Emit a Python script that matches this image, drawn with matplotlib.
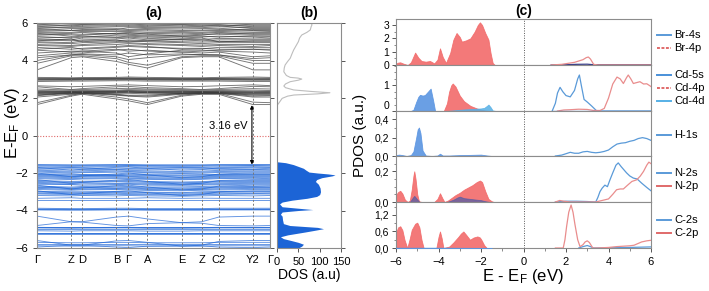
import numpy as np
import matplotlib
matplotlib.use("Agg")
import matplotlib.pyplot as plt
from matplotlib.lines import Line2D
from matplotlib.ticker import MultipleLocator

plt.rcParams['font.family'] = ['Liberation Sans', 'DejaVu Sans']
plt.rcParams['font.size'] = 8

# ---------------- data: band structure ----------------
kpos = [0, 34, 45, 79, 91, 110, 144, 164, 181, 215, 232]
klabels = ['Γ', 'Z', 'D', 'B', 'Γ', 'A', 'E', 'Z', 'C2', 'Y2', 'Γ']

cb_bands = [
    [1.65, 2.10, 2.20, 1.95, 1.85, 1.65, 2.10, 2.20, 2.20, 1.65, 1.65],
    [1.75, 2.15, 2.25, 2.05, 1.95, 1.75, 2.15, 2.25, 2.25, 1.78, 1.75],
    [2.05, 2.20, 2.25, 2.15, 2.10, 2.05, 2.20, 2.25, 2.25, 2.05, 2.05],
    [2.12, 2.26, 2.28, 2.18, 2.12, 2.10, 2.24, 2.28, 2.27, 2.10, 2.12],
    [2.15, 2.30, 2.30, 2.20, 2.15, 2.15, 2.25, 2.30, 2.30, 2.15, 2.15],
    [2.20, 2.22, 2.22, 2.25, 2.25, 2.22, 2.22, 2.22, 2.22, 2.20, 2.20],
    [2.22, 2.24, 2.26, 2.30, 2.32, 2.28, 2.24, 2.24, 2.26, 2.22, 2.22],
    [2.25, 2.28, 2.30, 2.28, 2.30, 2.28, 2.28, 2.27, 2.28, 2.25, 2.25],
    [2.28, 2.30, 2.31, 2.32, 2.33, 2.30, 2.30, 2.30, 2.30, 2.28, 2.28],
    [2.30, 2.32, 2.33, 2.35, 2.35, 2.33, 2.32, 2.32, 2.32, 2.30, 2.30],
    [2.33, 2.34, 2.34, 2.36, 2.38, 2.35, 2.34, 2.34, 2.34, 2.33, 2.33],
    [2.35, 2.35, 2.36, 2.38, 2.40, 2.38, 2.36, 2.35, 2.36, 2.36, 2.35],
    [2.40, 2.38, 2.40, 2.42, 2.45, 2.43, 2.40, 2.38, 2.40, 2.42, 2.40],
    [2.48, 2.42, 2.45, 2.50, 2.52, 2.48, 2.45, 2.42, 2.45, 2.50, 2.48],
    [2.60, 2.45, 2.50, 2.60, 2.62, 2.55, 2.50, 2.45, 2.50, 2.62, 2.60],
    [2.65, 2.60, 2.62, 2.68, 2.70, 2.66, 2.60, 2.62, 2.65, 2.70, 2.66],
    [2.88, 2.90, 2.90, 2.92, 2.92, 2.90, 2.90, 2.90, 2.90, 2.88, 2.88],
    [2.95, 2.95, 2.96, 2.97, 2.98, 2.96, 2.95, 2.95, 2.96, 2.95, 2.95],
    [2.97, 2.98, 2.98, 3.00, 3.00, 2.98, 2.98, 2.98, 2.98, 2.97, 2.97],
    [3.00, 3.00, 3.01, 3.02, 3.03, 3.01, 3.00, 3.00, 3.01, 3.00, 3.00],
    [3.02, 3.02, 3.03, 3.04, 3.05, 3.03, 3.02, 3.02, 3.03, 3.02, 3.02],
    [3.05, 3.04, 3.05, 3.06, 3.07, 3.05, 3.04, 3.04, 3.05, 3.06, 3.05],
    [3.10, 3.08, 3.09, 3.10, 3.12, 3.10, 3.08, 3.08, 3.10, 3.12, 3.10],
    [3.50, 4.15, 4.20, 3.95, 3.80, 3.60, 4.15, 4.20, 4.20, 3.50, 3.50],
    [3.85, 4.25, 4.25, 4.10, 3.90, 3.75, 4.20, 4.25, 4.25, 3.85, 3.85],
    [4.00, 4.30, 4.35, 4.30, 4.40, 4.30, 4.35, 4.30, 4.30, 4.00, 4.00],
    [4.15, 4.30, 4.32, 4.20, 4.05, 4.15, 4.30, 4.32, 4.30, 4.10, 4.15],
    [4.25, 4.40, 4.40, 4.55, 4.60, 4.50, 4.45, 4.40, 4.45, 4.20, 4.25],
    [4.40, 4.50, 4.50, 4.40, 4.20, 4.35, 4.55, 4.55, 4.50, 4.45, 4.40],
    [4.55, 4.45, 4.50, 4.60, 4.50, 4.55, 4.45, 4.50, 4.55, 4.60, 4.55],
    [4.60, 4.70, 4.60, 4.70, 4.75, 4.70, 4.65, 4.65, 4.60, 4.60, 4.60],
    [4.70, 4.60, 4.65, 4.75, 4.80, 4.75, 4.60, 4.62, 4.70, 4.70, 4.70],
    [4.80, 4.75, 4.80, 4.85, 4.90, 4.85, 4.80, 4.75, 4.80, 4.75, 4.80],
    [4.85, 4.80, 4.85, 4.95, 4.95, 4.90, 4.85, 4.82, 4.85, 4.85, 4.85],
    [4.95, 4.90, 4.95, 5.00, 5.05, 5.00, 4.95, 4.90, 4.95, 4.95, 4.95],
    [5.00, 4.95, 5.05, 5.05, 5.10, 5.05, 5.00, 4.98, 5.02, 5.00, 5.00],
    [5.05, 5.15, 5.00, 5.10, 5.00, 5.05, 5.15, 5.20, 5.00, 5.05, 5.05],
    [5.10, 5.05, 5.10, 5.15, 5.20, 5.10, 5.10, 5.05, 5.10, 5.10, 5.10],
    [5.15, 5.10, 5.20, 5.22, 5.25, 5.18, 5.12, 5.12, 5.18, 5.15, 5.15],
    [5.20, 5.25, 5.30, 5.25, 5.30, 5.25, 5.20, 5.25, 5.30, 5.25, 5.20],
    [5.28, 5.20, 5.25, 5.35, 5.35, 5.30, 5.28, 5.30, 5.25, 5.30, 5.28],
    [5.35, 5.40, 5.40, 5.45, 5.40, 5.35, 5.35, 5.40, 5.40, 5.35, 5.35],
    [5.40, 5.45, 5.50, 5.40, 5.45, 5.45, 5.42, 5.45, 5.50, 5.40, 5.40],
    [5.45, 5.30, 5.35, 5.45, 5.50, 5.40, 5.30, 5.35, 5.45, 5.45, 5.45],
    [5.50, 5.50, 5.55, 5.55, 5.55, 5.50, 5.50, 5.50, 5.55, 5.50, 5.50],
    [5.55, 5.60, 5.60, 5.62, 5.60, 5.58, 5.55, 5.58, 5.60, 5.58, 5.55],
    [5.60, 5.70, 5.70, 5.65, 5.75, 5.70, 5.68, 5.70, 5.72, 5.60, 5.60],
    [5.65, 5.60, 5.65, 5.70, 5.65, 5.65, 5.60, 5.62, 5.65, 5.65, 5.65],
    [5.70, 5.80, 5.82, 5.85, 5.85, 5.80, 5.80, 5.82, 5.85, 5.70, 5.70],
    [5.75, 5.75, 5.75, 5.80, 5.80, 5.75, 5.75, 5.75, 5.80, 5.75, 5.75],
    [5.80, 5.90, 5.92, 5.95, 5.95, 5.90, 5.92, 5.90, 5.92, 5.80, 5.80],
    [5.85, 5.85, 5.88, 5.90, 5.90, 5.85, 5.88, 5.85, 5.88, 5.85, 5.85],
    [5.90, 6.00, 5.98, 6.00, 6.05, 6.00, 6.00, 5.98, 6.00, 5.90, 5.90],
    [5.95, 5.95, 5.95, 5.98, 5.98, 5.95, 5.95, 5.95, 5.97, 5.95, 5.95],
]

vb_bands = [
    [-1.55, -1.56, -1.56, -1.55, -1.55, -1.56, -1.56, -1.56, -1.55, -1.55, -1.55],
    [-1.58, -1.60, -1.60, -1.58, -1.58, -1.60, -1.60, -1.60, -1.58, -1.58, -1.58],
    [-1.62, -1.65, -1.64, -1.62, -1.60, -1.63, -1.65, -1.64, -1.62, -1.60, -1.62],
    [-1.68, -1.70, -1.70, -1.66, -1.66, -1.68, -1.70, -1.70, -1.68, -1.66, -1.68],
    [-1.70, -1.85, -1.80, -1.70, -1.68, -1.75, -1.85, -1.82, -1.72, -1.70, -1.70],
    [-1.75, -1.72, -1.74, -1.78, -1.76, -1.74, -1.72, -1.73, -1.76, -1.78, -1.75],
    [-1.80, -1.78, -1.80, -1.82, -1.80, -1.80, -1.78, -1.78, -1.80, -1.82, -1.80],
    [-1.85, -1.90, -1.88, -1.84, -1.86, -1.88, -1.92, -1.90, -1.86, -1.84, -1.85],
    [-1.90, -1.95, -1.94, -1.90, -1.92, -1.94, -1.96, -1.95, -1.92, -1.90, -1.90],
    [-1.95, -2.00, -1.98, -1.96, -1.95, -1.98, -2.02, -2.00, -1.97, -1.95, -1.95],
    [-2.00, -2.20, -2.15, -2.05, -2.00, -2.10, -2.25, -2.20, -2.05, -2.00, -2.00],
    [-2.05, -2.05, -2.08, -2.10, -2.05, -2.06, -2.05, -2.06, -2.08, -2.05, -2.05],
    [-2.08, -2.10, -2.10, -2.12, -2.10, -2.10, -2.12, -2.10, -2.10, -2.08, -2.08],
    [-2.12, -2.15, -2.14, -2.12, -2.15, -2.14, -2.16, -2.15, -2.13, -2.12, -2.12],
    [-2.16, -2.20, -2.18, -2.16, -2.18, -2.20, -2.22, -2.20, -2.18, -2.16, -2.16],
    [-2.20, -2.25, -2.22, -2.20, -2.22, -2.25, -2.28, -2.25, -2.22, -2.20, -2.20],
    [-2.25, -2.30, -2.28, -2.25, -2.28, -2.30, -2.32, -2.30, -2.26, -2.25, -2.25],
    [-2.30, -2.35, -2.32, -2.30, -2.32, -2.34, -2.36, -2.34, -2.30, -2.28, -2.30],
    [-2.35, -2.55, -2.50, -2.38, -2.35, -2.45, -2.60, -2.55, -2.40, -2.35, -2.35],
    [-2.40, -2.45, -2.44, -2.42, -2.40, -2.45, -2.48, -2.46, -2.42, -2.40, -2.40],
    [-2.45, -2.50, -2.48, -2.46, -2.45, -2.50, -2.52, -2.50, -2.46, -2.45, -2.45],
    [-2.50, -2.55, -2.52, -2.55, -2.52, -2.55, -2.58, -2.55, -2.52, -2.50, -2.50],
    [-2.55, -2.60, -2.58, -2.58, -2.56, -2.60, -2.62, -2.60, -2.57, -2.55, -2.55],
    [-2.60, -2.62, -2.65, -2.62, -2.60, -2.65, -2.66, -2.64, -2.62, -2.60, -2.60],
    [-2.65, -2.85, -2.80, -2.68, -2.65, -2.75, -2.90, -2.85, -2.70, -2.65, -2.65],
    [-2.70, -2.75, -2.72, -2.70, -2.72, -2.75, -2.74, -2.72, -2.70, -2.72, -2.70],
    [-2.75, -2.80, -2.78, -2.76, -2.76, -2.80, -2.80, -2.78, -2.76, -2.75, -2.75],
    [-2.78, -2.82, -2.80, -2.82, -2.80, -2.84, -2.85, -2.82, -2.80, -2.78, -2.78],
    [-2.82, -2.88, -2.86, -2.84, -2.85, -2.88, -2.90, -2.88, -2.85, -2.82, -2.82],
    [-2.88, -2.92, -2.90, -2.88, -2.90, -2.93, -2.95, -2.92, -2.90, -2.88, -2.88],
    [-2.95, -3.15, -3.10, -2.98, -2.95, -3.05, -3.20, -3.15, -3.00, -2.95, -2.95],
    [-2.98, -3.00, -3.00, -2.98, -3.00, -3.02, -3.05, -3.00, -2.98, -2.98, -2.98],
    [-3.02, -3.05, -3.05, -3.04, -3.05, -3.06, -3.08, -3.05, -3.03, -3.02, -3.02],
    [-3.08, -3.10, -3.10, -3.08, -3.10, -3.12, -3.14, -3.10, -3.08, -3.10, -3.08],
    [-3.12, -3.15, -3.16, -3.14, -3.15, -3.16, -3.18, -3.16, -3.14, -3.12, -3.12],
    [-3.20, -3.22, -3.20, -3.22, -3.20, -3.22, -3.24, -3.22, -3.20, -3.22, -3.20],
    [-3.35, -3.32, -3.35, -3.35, -3.35, -3.32, -3.35, -3.34, -3.35, -3.35, -3.35],
    [-3.45, -3.45, -3.45, -3.45, -3.45, -3.45, -3.45, -3.45, -3.45, -3.45, -3.45],
    [-3.88, -3.90, -3.90, -3.88, -3.88, -3.90, -3.90, -3.90, -3.88, -3.88, -3.88],
    [-3.93, -3.94, -3.94, -3.93, -3.93, -3.94, -3.94, -3.94, -3.93, -3.93, -3.93],
    [-3.95, -3.96, -3.96, -3.95, -3.95, -3.96, -3.96, -3.96, -3.95, -3.95, -3.95],
    [-3.97, -3.98, -3.98, -3.97, -3.97, -3.98, -3.98, -3.98, -3.97, -3.97, -3.97],
    [-4.30, -4.60, -4.60, -4.35, -4.30, -4.45, -4.65, -4.60, -4.35, -4.30, -4.30],
    [-4.80, -4.60, -4.62, -4.80, -4.82, -4.70, -4.65, -4.68, -4.80, -4.82, -4.80],
    [-4.88, -4.88, -4.88, -4.88, -4.88, -4.88, -4.88, -4.88, -4.88, -4.88, -4.88],
    [-4.90, -4.91, -4.91, -4.90, -4.90, -4.91, -4.91, -4.91, -4.90, -4.90, -4.90],
    [-4.93, -4.95, -4.94, -4.93, -4.93, -4.95, -4.95, -4.94, -4.93, -4.93, -4.93],
    [-5.00, -5.00, -5.00, -5.00, -5.00, -5.00, -5.00, -5.00, -5.00, -5.00, -5.00],
    [-5.08, -5.10, -5.08, -5.08, -5.08, -5.10, -5.10, -5.08, -5.08, -5.08, -5.08],
    [-5.18, -5.18, -5.18, -5.18, -5.18, -5.18, -5.18, -5.18, -5.18, -5.18, -5.18],
    [-5.22, -5.22, -5.22, -5.22, -5.22, -5.22, -5.22, -5.22, -5.22, -5.22, -5.22],
    [-5.25, -5.25, -5.25, -5.25, -5.25, -5.25, -5.25, -5.25, -5.25, -5.25, -5.25],
    [-5.60, -5.85, -5.85, -5.62, -5.60, -5.70, -5.90, -5.85, -5.65, -5.60, -5.60],
    [-5.70, -5.72, -5.72, -5.70, -5.70, -5.72, -5.72, -5.72, -5.70, -5.70, -5.70],
    [-5.78, -5.78, -5.78, -5.78, -5.78, -5.78, -5.78, -5.78, -5.78, -5.78, -5.78],
    [-5.88, -5.90, -5.90, -5.88, -5.88, -5.90, -5.90, -5.90, -5.88, -5.88, -5.88],
    [-5.95, -5.85, -5.85, -5.95, -5.98, -5.90, -5.88, -5.88, -5.95, -5.98, -5.95],
]

gap_value = "3.16 eV"

# ---------------- data: total DOS ----------------
dos_cb_E = [1.60, 1.75, 1.98, 2.10, 2.16, 2.22, 2.28, 2.35, 2.43, 2.55, 2.64, 2.75, 2.87, 2.95,
            3.01, 3.06, 3.10, 3.20, 3.40, 3.60, 3.76, 3.95, 4.12, 4.35, 4.56, 4.80, 5.00, 5.20,
            5.36, 5.50, 5.63, 5.80, 5.90, 6.00]
dos_cb = [0, 5, 12, 25, 40, 95, 124, 80, 39, 20, 16, 20, 31, 50,
          58, 50, 31, 22, 16, 17, 19, 25, 31, 35, 39, 45, 50, 53,
          58, 70, 78, 80, 82, 80]
dos_vb_E = [-1.40, -1.45, -1.55, -1.65, -1.75, -1.85, -1.95, -2.00, -2.05, -2.10, -2.15, -2.25,
            -2.35, -2.45, -2.60, -2.80, -3.00, -3.15, -3.25, -3.35, -3.45, -3.55, -3.65, -3.80,
            -3.90, -3.95, -4.00, -4.08, -4.20, -4.30, -4.50, -4.70, -4.80, -4.90, -4.97, -5.05,
            -5.15, -5.30, -5.40, -5.50, -5.60, -5.70, -5.80, -5.90, -6.00]
dos_vb = [0, 20, 38, 50, 62, 68, 75, 95, 120, 136, 130, 105,
          93, 90, 97, 101, 102, 100, 93, 70, 35, 12, 6, 12,
          60, 84, 50, 12, 8, 12, 13, 15, 30, 95, 109, 90,
          65, 25, 8, 15, 33, 50, 62, 58, 50]

# ---------------- data: PDOS ----------------
br4p_vE = [-6.0, -5.9, -5.8, -5.65, -5.45, -5.3, -5.1, -4.95, -4.8, -4.6, -4.4, -4.2, -4.05, -3.93,
           -3.8, -3.65, -3.45, -3.3, -3.15, -3.0, -2.9, -2.7, -2.5, -2.3, -2.15, -2.05, -1.95,
           -1.8, -1.65, -1.55, -1.45, -1.35]
br4p_v = [0.1, 0.18, 0.2, 0.1, 0.0, 0.2, 0.93, 0.55, 0.3, 0.25, 0.3, 0.12, 0.4, 1.25,
          0.6, 0.15, 0.9, 1.9, 2.4, 2.1, 1.75, 1.85, 2.0, 2.5, 3.0, 3.2, 3.0,
          2.4, 1.9, 0.9, 0.15, 0.0]
br4p_cE = [1.3, 1.8, 2.0, 2.2, 2.4, 2.6, 2.8, 2.95, 3.05, 3.15, 3.3, 3.5, 6.0]
br4p_c = [0, 0.05, 0.1, 0.15, 0.2, 0.3, 0.4, 0.55, 0.6, 0.45, 0.05, 0, 0]
br4s_cE = [1.3, 2.0, 2.5, 3.0, 3.3, 4.0, 5.0, 6.0]
br4s_c = [0, 0.02, 0.05, 0.06, 0.02, 0.02, 0.02, 0.02]

cd5s_vE = [-5.3, -5.18, -5.05, -4.95, -4.87, -4.75, -4.64, -4.5, -4.37, -4.25, -4.16, -4.0]
cd5s_v = [0, 0.05, 0.35, 0.55, 0.63, 0.6, 0.62, 0.75, 0.87, 0.4, 0.0, 0]
cd4d_vE = [-3.6, -3.2, -2.8, -2.4, -2.0, -1.85, -1.72, -1.65, -1.55, -1.45, -1.3]
cd4d_v = [0, 0.03, 0.06, 0.08, 0.1, 0.12, 0.2, 0.25, 0.15, 0.02, 0]
cd4p_vE = [-3.75, -3.6, -3.5, -3.4, -3.33, -3.2, -3.0, -2.8, -2.5, -2.2, -2.0, -1.8, -1.6]
cd4p_v = [0, 0.3, 0.75, 1.0, 1.07, 0.95, 0.6, 0.38, 0.2, 0.1, 0.05, 0.02, 0]
cd5s_cE = [1.35, 1.5, 1.6, 1.72, 1.85, 2.0, 2.2, 2.4, 2.55, 2.63, 2.72, 2.85, 3.0, 3.2, 3.45, 3.6, 6.0]
cd5s_c = [0, 0.3, 0.7, 0.92, 0.75, 0.6, 0.55, 0.8, 1.25, 1.4, 1.0, 0.45, 0.35, 0.2, 0.0, 0.0, 0.0]
cd4p_cE = [1.6, 1.9, 2.2, 2.6, 3.0, 3.3, 3.6, 3.8, 4.0, 4.2, 4.4, 4.55, 4.7, 4.85, 4.93, 5.05,
           5.17, 5.3, 5.48, 5.65, 5.8, 5.95, 6.0]
cd4p_c = [0, 0.04, 0.05, 0.07, 0.06, 0.02, 0.02, 0.1, 0.5, 1.05, 1.32, 1.25, 1.07, 1.3, 1.4, 1.25,
          1.07, 1.1, 1.14, 1.05, 1.06, 0.98, 0.95]
cd4d_cE = [1.4, 3.0, 6.0]
cd4d_c = [0.01, 0.01, 0.01]

h1s_vE = [-6.0, -5.85, -5.7, -5.5, -5.3, -5.18, -5.05, -4.98, -4.92, -4.85, -4.75, -4.6, -4.3,
          -4.05, -3.93, -3.8, -3.5, -3.0, -2.5, -2.0, -1.7, -1.5]
h1s_v = [0.01, 0.015, 0.01, 0.0, 0.01, 0.05, 0.2, 0.29, 0.31, 0.25, 0.06, 0.005, 0.0,
         0.005, 0.025, 0.005, 0.005, 0.01, 0.012, 0.015, 0.005, 0]
h1s_cE = [1.5, 1.8, 2.0, 2.2, 2.4, 2.6, 2.8, 3.0, 3.2, 3.4, 3.6, 3.8, 4.0, 4.2, 4.4, 4.6, 4.8,
          5.0, 5.2, 5.4, 5.6, 5.8, 6.0]
h1s_c = [0, 0.01, 0.025, 0.04, 0.03, 0.03, 0.045, 0.05, 0.04, 0.035, 0.04, 0.05, 0.065, 0.1,
         0.13, 0.14, 0.145, 0.16, 0.17, 0.19, 0.2, 0.19, 0.17]

n2p_vE = [-6.0, -5.9, -5.8, -5.7, -5.58, -5.45, -5.35, -5.26, -5.18, -5.14, -5.08, -5.0, -4.92,
          -4.8, -4.2, -4.05, -3.93, -3.82, -3.72, -3.55, -3.4, -3.2, -3.0, -2.8, -2.6, -2.4,
          -2.2, -2.05, -1.95, -1.8, -1.65, -1.5, -1.4]
n2p_v = [0.045, 0.065, 0.073, 0.055, 0.015, 0.0, 0.01, 0.08, 0.17, 0.2, 0.15, 0.05, 0.005,
         0, 0, 0.02, 0.057, 0.025, 0.0, 0.01, 0.025, 0.045, 0.06, 0.08, 0.095, 0.11,
         0.13, 0.14, 0.13, 0.07, 0.02, 0.005, 0]
n2s_vE = [-5.35, -5.2, -5.14, -5.05, -4.9, -3.6, -3.3, -3.1, -3.0, -2.8, -2.5, -2.2, -2.0, -1.8, -1.6]
n2s_v = [0, 0.03, 0.04, 0.025, 0, 0, 0.015, 0.03, 0.035, 0.025, 0.02, 0.015, 0.012, 0.005, 0]
n2s_cE = [1.5, 2.0, 2.5, 3.0, 3.4, 3.5, 3.6, 3.7, 3.83, 3.95, 4.07, 4.2, 4.35, 4.46, 4.6, 4.85,
          5.0, 5.17, 5.35, 5.56, 5.8, 6.0]
n2s_c = [0, 0.005, 0.005, 0.003, 0.0, 0.03, 0.068, 0.09, 0.11, 0.1, 0.145, 0.19, 0.24, 0.255,
         0.23, 0.19, 0.17, 0.156, 0.15, 0.123, 0.095, 0.073]
n2p_cE = [1.5, 1.7, 1.9, 2.2, 3.4, 3.7, 4.0, 4.2, 4.38, 4.55, 4.7, 4.9, 5.1, 5.33, 5.5, 5.65,
          5.8, 5.9, 6.0]
n2p_c = [0, 0.01, 0.005, 0, 0, 0.01, 0.02, 0.05, 0.08, 0.085, 0.085, 0.11, 0.134, 0.145, 0.17,
         0.2, 0.24, 0.26, 0.25]

c2p_vE = [-6.0, -5.9, -5.8, -5.7, -5.6, -5.47, -5.35, -5.26, -5.1, -5.0, -4.9, -4.8, -4.7,
          -4.1, -4.0, -3.93, -3.85, -3.77, -3.5, -3.3, -3.07, -2.95, -2.83, -2.7, -2.52,
          -2.35, -2.17, -2.05, -1.97, -1.85, -1.73]
c2p_v = [0.55, 0.75, 0.79, 0.65, 0.3, 0.0, 0.35, 0.66, 0.88, 0.92, 0.75, 0.3, 0.0,
         0.0, 0.4, 0.6, 0.35, 0.0, 0.05, 0.2, 0.4, 0.52, 0.6, 0.48, 0.3,
         0.38, 0.42, 0.38, 0.28, 0.1, 0.0]
c2s_vE = [-6.0, -4.0, -1.5]
c2s_v = [0.01, 0.01, 0.0]
c2p_cE = [1.5, 1.87, 1.95, 2.03, 2.13, 2.24, 2.33, 2.42, 2.55, 2.66, 2.8, 2.9, 3.0, 3.1, 3.26,
          3.5, 4.0, 4.38, 5.0, 5.2, 5.56, 5.8, 6.0]
c2p_c = [0, 0.0, 0.3, 0.79, 1.3, 1.56, 1.3, 0.86, 0.3, 0.05, 0.12, 0.22, 0.26, 0.2, 0.0,
         0, 0.02, 0.05, 0.08, 0.1, 0.22, 0.26, 0.28]
c2s_cE = [2.6, 2.8, 3.0, 3.15, 3.3, 5.0, 5.5, 6.0]
c2s_c = [0, 0.05, 0.09, 0.05, 0, 0.02, 0.03, 0.04]

# ---------------- styling ----------------
W, H = 709, 291
SP = '#8c8c8c'
RED_F = '#f26a6a'
BLUE_F = '#5a95e2'
CYAN_F = '#56b0e6'
RED_L = '#e98d8d'
BLUE_L = '#5a9ad8'
GRAY_B = '#3a3a3a'
BLUE_B = '#1c64d6'


def fx(px):
    return px / W


def fy(py):
    return 1 - py / H


def style(ax, ls=8):
    for s in ax.spines.values():
        s.set_color(SP)
        s.set_linewidth(0.8)
    ax.tick_params(colors='#555555', labelcolor='black', labelsize=ls, width=0.7, length=3)


fig = plt.figure(figsize=(W / 100, H / 100), dpi=100)

# ---------------- (a) band structure ----------------
axa = fig.add_axes([fx(37), fy(248), fx(233), 225 / H])
for b in cb_bands:
    axa.plot(kpos, b, color=GRAY_B, lw=0.65, alpha=0.7)
for b in vb_bands:
    axa.plot(kpos, b, color=BLUE_B, lw=0.65, alpha=0.7)
for k in kpos[1:-1]:
    axa.axvline(k, color='#777777', lw=0.7, ls=(0, (2, 2)))
axa.axhline(0, color='#e06a6a', lw=0.8, ls=(0, (1, 1.5)))
axa.set_xlim(kpos[0], kpos[-1])
axa.set_ylim(-6, 6)
axa.set_yticks([-6, -4, -2, 0, 2, 4, 6])
axa.set_xticks(kpos)
axa.set_xticklabels(klabels, fontsize=9)
style(axa)
axa.tick_params(axis='x', length=0, pad=5)
axa.tick_params(axis='y', right=True, direction='out')
fig.text(fx(13), fy(123), 'E-E$\\mathregular{_F}$ (eV)', rotation=90, ha='center', va='center',
         fontsize=12)
axa.annotate('', xy=(kpos[9] - 1, 1.62), xytext=(kpos[9] - 1, -1.55),
             arrowprops=dict(arrowstyle='<|-|>', color='black', lw=0.8, mutation_scale=5,
                             shrinkA=0, shrinkB=0))
axa.text(kpos[9] - 5, 0.5, gap_value, ha='right', va='center', fontsize=8)
axa.set_title('(a)', fontsize=10, fontweight='bold', pad=4)

# ---------------- (b) DOS ----------------
axb = fig.add_axes([fx(277), fy(248), fx(64), 225 / H])
axb.plot(dos_cb, dos_cb_E, color='#bdbdbd', lw=0.8)
axb.fill_betweenx(dos_vb_E, 0, dos_vb, color=BLUE_B, lw=0)
axb.set_xlim(0, 150)
axb.set_ylim(-6, 6)
axb.set_xticks([0, 50, 100, 150])
axb.set_yticks([-6, -4, -2, 0, 2, 4, 6])
axb.set_yticklabels([])
style(axb)
axb.tick_params(axis='y', left=False, right=True, direction='out')
axb.set_xlabel('DOS (a.u)', fontsize=10, labelpad=1)
axb.set_title('(b)', fontsize=10, fontweight='bold', pad=4)

# ---------------- (c) PDOS ----------------
bounds = [19, 65, 111, 156, 202, 248]
ylims = [3.45, 1.79, 0.49, 0.30, 1.67]
yticks = [[0, 1, 2, 3], [0, 1], [0, 0.2, 0.4], [0, 0.2], [0, 0.6, 1.2]]
ytlabels = [['0', '1', '2', '3'], ['0', '1'], ['0,0', '0,2', '0,4'], ['0,0', '0,2'],
            ['0,0', '0,6', '1,2']]
yminor = [0.5, 0.25, 0.1, 0.05, 0.3]

axes_c = []
for i in range(5):
    ax = fig.add_axes([fx(396), fy(bounds[i + 1]), fx(255), (bounds[i + 1] - bounds[i]) / H])
    ax.set_xlim(-6, 6)
    ax.set_ylim(0, ylims[i])
    ax.set_yticks(yticks[i])
    ax.set_yticklabels(ytlabels[i])
    ax.yaxis.set_minor_locator(MultipleLocator(yminor[i]))
    ax.xaxis.set_major_locator(MultipleLocator(2))
    ax.xaxis.set_minor_locator(MultipleLocator(1))
    ax.axvline(0, color='#555555', lw=0.7, ls=(0, (1, 1.5)))
    style(ax, ls=7.5)
    ax.tick_params(axis='y', pad=2)
    ax.tick_params(which='minor', length=1.8, width=0.6, colors='#777777')
    if i < 4:
        ax.tick_params(axis='x', labelbottom=False)
    else:
        ax.tick_params(axis='x', labelsize=8)
    axes_c.append(ax)

a0, a1, a2, a3, a4 = axes_c
# lift the lowest tick label of the Cd panel so it does not touch the H panel's top label
a1.get_yticklabels()[0].set_va('bottom')


def vfill(ax, E, v, color, alpha=0.9, zorder=2):
    ax.fill_between(E, 0, v, color=color, alpha=alpha, lw=0.6, zorder=zorder)


def cline(ax, E, v, color):
    ax.plot(E, v, color=color, lw=0.9, zorder=3)


# Br
vfill(a0, br4p_vE, br4p_v, RED_F)
cline(a0, br4s_cE, br4s_c, '#3a3f8a')
cline(a0, br4p_cE, br4p_c, RED_L)
# Cd
vfill(a1, cd5s_vE, cd5s_v, BLUE_F)
vfill(a1, cd4p_vE, cd4p_v, RED_F)
vfill(a1, cd4d_vE, cd4d_v, CYAN_F, alpha=0.85, zorder=3)
cline(a1, cd5s_cE, cd5s_c, BLUE_L)
cline(a1, cd4p_cE, cd4p_c, RED_L)
cline(a1, cd4d_cE, cd4d_c, '#2f73d0')
# H
vfill(a2, h1s_vE, h1s_v, BLUE_F)
cline(a2, h1s_cE, h1s_c, BLUE_L)
# N
vfill(a3, n2p_vE, n2p_v, RED_F)
vfill(a3, n2s_vE, n2s_v, '#4a5aa8', alpha=0.7, zorder=3)
cline(a3, n2s_cE, n2s_c, BLUE_L)
cline(a3, n2p_cE, n2p_c, RED_L)
# C
vfill(a4, c2p_vE, c2p_v, RED_F)
vfill(a4, c2s_vE, c2s_v, BLUE_F, zorder=3)
cline(a4, c2s_cE, c2s_c, BLUE_L)
cline(a4, c2p_cE, c2p_c, RED_L)

a0.set_title('(c)', fontsize=10, fontweight='bold', pad=3)
fig.text(fx(523), fy(276), 'E - E$\\mathregular{_F}$ (eV)', ha='center', va='center', fontsize=12)
fig.text(fx(360), fy(135), 'PDOS (a.u.)', ha='center', va='center', rotation=90, fontsize=11)

# legends
legend_items = [
    ('Br-4s', '#5a9ad8', '-', 35), ('Br-4p', '#e06a6a', (0, (1.5, 0.8)), 48),
    ('Cd-5s', '#4a90d9', '-', 75), ('Cd-4p', '#e06a6a', (0, (1.5, 0.8)), 88),
    ('Cd-4d', '#56b0e6', '-', 101),
    ('H-1s', '#5a9ad8', '-', 135),
    ('N-2s', '#5a9ad8', '-', 173), ('N-2p', '#e06a6a', '-', 186),
    ('C-2s', '#5a9ad8', '-', 220), ('C-2p', '#e06a6a', '-', 233),
]
for lab, col, ls, ypx in legend_items:
    fig.add_artist(Line2D([fx(657), fx(671)], [fy(ypx), fy(ypx)], color=col, lw=1.4, ls=ls,
                          transform=fig.transFigure))
    fig.text(fx(674), fy(ypx), lab, ha='left', va='center', fontsize=8)

fig.savefig('out.png', dpi=100)
